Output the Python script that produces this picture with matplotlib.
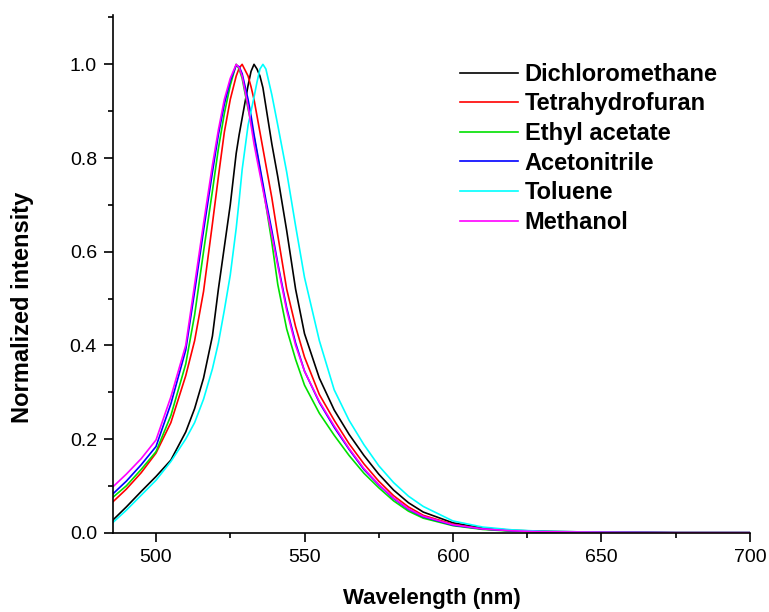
import matplotlib
matplotlib.use('Agg')
import matplotlib.pyplot as plt
from matplotlib.ticker import MultipleLocator

plt.rcParams['font.family'] = ['Liberation Sans', 'DejaVu Sans']

# wavelength grid (nm) shared by all spectra
wavelength = [485, 490, 495, 500, 505, 510, 513, 516, 519, 521, 523, 525, 527, 528, 529,
              531, 532, 533, 534, 535, 536, 537, 539, 541, 544, 547, 550, 555, 560, 565,
              570, 575, 580, 585, 590, 600, 610, 620, 630, 650, 675, 700]

# normalized emission
dichloromethane = [0.024, 0.055, 0.088, 0.120, 0.155, 0.215, 0.265, 0.330, 0.420, 0.520, 0.610,
                   0.700, 0.810, 0.850, 0.885, 0.955, 0.985, 1.000, 0.990, 0.975, 0.950, 0.910,
                   0.830, 0.760, 0.645, 0.520, 0.425, 0.330, 0.262, 0.210, 0.165, 0.125, 0.091,
                   0.064, 0.044, 0.021, 0.010, 0.005, 0.003, 0.001, 0.0, 0.0]
tetrahydrofuran = [0.063, 0.093, 0.128, 0.170, 0.235, 0.335, 0.410, 0.515, 0.660, 0.760, 0.855,
                   0.925, 0.975, 0.992, 1.000, 0.975, 0.952, 0.925, 0.890, 0.855, 0.820, 0.785,
                   0.715, 0.635, 0.520, 0.440, 0.375, 0.295, 0.240, 0.190, 0.147, 0.110, 0.079,
                   0.055, 0.037, 0.018, 0.008, 0.004, 0.002, 0.001, 0.0, 0.0]
ethyl_acetate = [0.073, 0.100, 0.135, 0.173, 0.250, 0.360, 0.465, 0.600, 0.730, 0.820, 0.895,
                 0.955, 1.000, 0.990, 0.970, 0.905, 0.875, 0.845, 0.810, 0.775, 0.738, 0.700,
                 0.620, 0.530, 0.435, 0.370, 0.315, 0.255, 0.208, 0.165, 0.127, 0.096, 0.068,
                 0.046, 0.031, 0.015, 0.007, 0.003, 0.002, 0.001, 0.0, 0.0]
acetonitrile = [0.080, 0.110, 0.145, 0.184, 0.275, 0.390, 0.515, 0.645, 0.770, 0.850, 0.915,
                0.965, 0.998, 0.995, 0.980, 0.925, 0.890, 0.850, 0.815, 0.780, 0.745, 0.710,
                0.645, 0.575, 0.480, 0.405, 0.345, 0.278, 0.225, 0.178, 0.135, 0.102, 0.073,
                0.050, 0.034, 0.016, 0.008, 0.004, 0.002, 0.001, 0.0, 0.0]
toluene = [0.019, 0.048, 0.080, 0.112, 0.152, 0.200, 0.235, 0.285, 0.350, 0.405, 0.475,
           0.550, 0.650, 0.710, 0.775, 0.870, 0.900, 0.930, 0.962, 0.990, 1.000, 0.990,
           0.935, 0.870, 0.770, 0.655, 0.545, 0.410, 0.305, 0.240, 0.188, 0.143, 0.107,
           0.078, 0.056, 0.025, 0.012, 0.006, 0.003, 0.001, 0.0, 0.0]
methanol = [0.095, 0.125, 0.158, 0.198, 0.290, 0.400, 0.530, 0.660, 0.785, 0.860, 0.925,
            0.970, 1.000, 0.993, 0.975, 0.910, 0.870, 0.830, 0.797, 0.765, 0.733, 0.700,
            0.635, 0.570, 0.475, 0.400, 0.345, 0.280, 0.228, 0.180, 0.137, 0.103, 0.074,
            0.051, 0.035, 0.017, 0.008, 0.004, 0.002, 0.001, 0.0, 0.0]

solvents = ['Dichloromethane', 'Tetrahydrofuran', 'Ethyl acetate', 'Acetonitrile', 'Toluene', 'Methanol']
spectra = [dichloromethane, tetrahydrofuran, ethyl_acetate, acetonitrile, toluene, methanol]
colors = ['#000000', '#ff0000', '#00e000', '#0000ff', '#00ffff', '#ff00ff']

fig = plt.figure(figsize=(7.69, 6.12), dpi=100)
ax = fig.add_axes([0.1469, 0.1296, 0.8283, 0.8464])

for name, y, c in zip(solvents, spectra, colors):
    ax.plot(wavelength, y, color=c, lw=1.2, label=name)

ax.set_xlim(485.5, 700)
ax.set_ylim(0, 1.106)
ax.xaxis.set_major_locator(MultipleLocator(50))
ax.xaxis.set_minor_locator(MultipleLocator(25))
ax.yaxis.set_major_locator(MultipleLocator(0.2))
ax.yaxis.set_minor_locator(MultipleLocator(0.1))
ax.yaxis.set_major_formatter(plt.FormatStrFormatter('%.1f'))

ax.spines['top'].set_visible(False)
ax.spines['right'].set_visible(False)
for s in ['left', 'bottom']:
    ax.spines[s].set_linewidth(1.2)
ax.tick_params(which='major', direction='out', length=6.5, width=1.2, labelsize=14, pad=5)
ax.tick_params(which='minor', direction='out', length=3.5, width=1.2)

ax.set_xlabel('Wavelength (nm)', fontsize=16, fontweight='bold')
ax.set_ylabel('Normalized intensity', fontsize=17, fontweight='bold')
ax.xaxis.set_label_coords(0.5, -0.107)
ax.yaxis.set_label_coords(-0.124, 0.434)

ax.legend(loc='upper left', bbox_to_anchor=(0.545, 0.907), frameon=False,
          prop={'size': 17, 'weight': 'bold'}, handlelength=2.45, handletextpad=0.28,
          labelspacing=0.28, borderpad=0, borderaxespad=0)

plt.savefig('out.png', dpi=100)
